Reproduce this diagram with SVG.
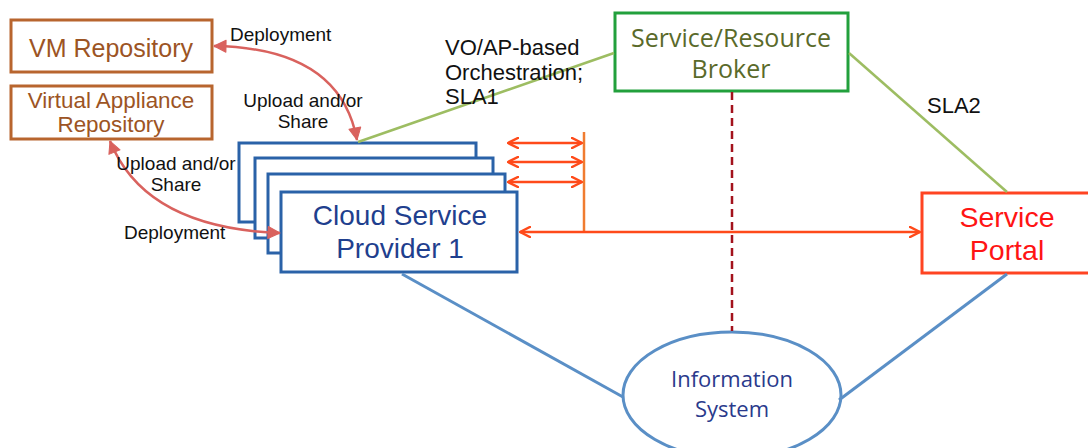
<svg xmlns="http://www.w3.org/2000/svg" width="1088" height="448" viewBox="0 0 1088 448">
  <style>
    .lbl { font-family: "Liberation Sans", Arial, sans-serif; fill: #111; }
    .repo { fill: #fff; stroke: #b8652e; stroke-width: 3; }
    .repo-t { font-family: "Liberation Sans", Arial, sans-serif; fill: #9c5424; text-anchor: middle; }
    .csp { fill: #fff; stroke: #2a62a8; stroke-width: 3; }
    .csp-t { font-family: "Liberation Sans", Arial, sans-serif; fill: #1f3f8e; text-anchor: middle; font-size: 28px; }
    .sans-t { font-family: "Open Sans", Lato, sans-serif; text-anchor: middle; }
    .blue-ln { fill: none; stroke: #5a8fc6; stroke-width: 3; }
    .green-ln { fill: none; stroke: #9dbd62; stroke-width: 2.5; }
    .red-ln { fill: none; stroke: #ff4a1a; stroke-width: 2.5; }
    .rose-ln { fill: none; stroke: #d9625e; stroke-width: 2.5; }
  </style>
  <defs>
    <marker id="ahRed" viewBox="0 0 12 12" refX="11" refY="6" markerWidth="12" markerHeight="12" markerUnits="userSpaceOnUse" orient="auto-start-reverse">
      <path d="M1,1 L11,6 L1,11" fill="none" stroke="#ff4a1a" stroke-width="2.5" stroke-linecap="round" stroke-linejoin="round"/>
    </marker>
    <marker id="ahRose" viewBox="0 0 14 14" refX="13" refY="7" markerWidth="14" markerHeight="14" markerUnits="userSpaceOnUse" orient="auto-start-reverse">
      <path d="M1,1 L13,7 L1,13 Z" fill="#d9625e" stroke="#d9625e" stroke-width="1" stroke-linejoin="round"/>
    </marker>
  </defs>

  <rect width="1088" height="448" fill="#fff"/>

  <g id="vm-repository">
    <rect class="repo" x="11" y="20" width="201" height="52"/>
    <text class="repo-t" x="111" y="57" font-size="25">VM Repository</text>
  </g>

  <g id="va-repository">
    <rect class="repo" x="11" y="86" width="201" height="53"/>
    <text class="repo-t" x="111" y="108" font-size="22.4">Virtual Appliance</text>
    <text class="repo-t" x="111" y="132" font-size="22.4">Repository</text>
  </g>

  <g id="cloud-service-providers">
    <rect class="csp" x="239" y="143" width="237" height="79"/>
    <rect class="csp" x="255" y="158" width="238" height="80"/>
    <rect class="csp" x="268" y="174" width="237" height="79"/>
    <rect class="csp" x="281" y="192" width="236" height="80"/>
    <text class="csp-t" x="400" y="225">Cloud Service</text>
    <text class="csp-t" x="400" y="258">Provider 1</text>
  </g>

  <g id="broker">
    <rect x="615" y="13" width="233" height="78" fill="#fff" stroke="#22a03c" stroke-width="3"/>
    <text class="sans-t" x="731" y="47" font-size="25" fill="#5a6a2a">Service/Resource</text>
    <text class="sans-t" x="731" y="78" font-size="25" fill="#5a6a2a">Broker</text>
  </g>

  <g id="service-portal">
    <rect x="922" y="193" width="170" height="80" fill="#fff" stroke="#ff4422" stroke-width="3"/>
    <text x="1007" y="227" font-family="Liberation Sans, Arial, sans-serif" font-size="28.5" fill="#ff1414" text-anchor="middle">Service</text>
    <text x="1007" y="260" font-family="Liberation Sans, Arial, sans-serif" font-size="28.5" fill="#ff1414" text-anchor="middle">Portal</text>
  </g>

  <g id="information-system">
    <ellipse cx="732" cy="395" rx="109" ry="63" fill="#fff" stroke="#5a8fc6" stroke-width="3"/>
    <text class="sans-t" x="732" y="387" font-size="22" fill="#2a3a8c">Information</text>
    <text class="sans-t" x="732" y="417" font-size="22" fill="#2a3a8c">System</text>
  </g>

  <!-- connectors, drawn over the node outlines -->
  <g id="connectors">
    <!-- information system links -->
    <line class="blue-ln" x1="402" y1="274" x2="623" y2="397"/>
    <line class="blue-ln" x1="1007" y1="274" x2="839" y2="400"/>
    <!-- broker to information system -->
    <line x1="732" y1="92" x2="732" y2="331" stroke="#a3121c" stroke-width="2.5" stroke-dasharray="8,5"/>
    <!-- SLA links -->
    <line class="green-ln" x1="614" y1="53" x2="358" y2="142"/>
    <line class="green-ln" x1="849" y1="53" x2="1007" y2="192"/>
    <!-- repository transfers -->
    <path class="rose-ln" d="M214,46 Q340,48 357,140" marker-start="url(#ahRose)" marker-end="url(#ahRose)"/>
    <path class="rose-ln" d="M110,141 Q145,228 280,233" marker-start="url(#ahRose)" marker-end="url(#ahRose)"/>
    <!-- provider links -->
    <line x1="584" y1="132" x2="584" y2="232" stroke="#f07c30" stroke-width="2.5"/>
    <line class="red-ln" x1="508" y1="143" x2="582" y2="143" marker-start="url(#ahRed)" marker-end="url(#ahRed)"/>
    <line class="red-ln" x1="508" y1="162" x2="582" y2="162" marker-start="url(#ahRed)" marker-end="url(#ahRed)"/>
    <line class="red-ln" x1="508" y1="182" x2="582" y2="182" marker-start="url(#ahRed)" marker-end="url(#ahRed)"/>
    <line class="red-ln" x1="520" y1="232" x2="920" y2="232" marker-start="url(#ahRed)" marker-end="url(#ahRed)"/>
  </g>

  <!-- connector labels -->
  <g id="labels" class="lbl" font-size="19">
    <text x="230" y="41">Deployment</text>
    <text x="303" y="107" text-anchor="middle">Upload and/or</text>
    <text x="303" y="128" text-anchor="middle">Share</text>
    <text x="176" y="170" text-anchor="middle">Upload and/or</text>
    <text x="176" y="191" text-anchor="middle">Share</text>
    <text x="124" y="239">Deployment</text>
    <text x="445" y="55" font-size="22">VO/AP-based</text>
    <text x="445" y="80" font-size="22">Orchestration;</text>
    <text x="445" y="104" font-size="22">SLA1</text>
    <text x="927" y="113" font-size="22">SLA2</text>
  </g>
</svg>
